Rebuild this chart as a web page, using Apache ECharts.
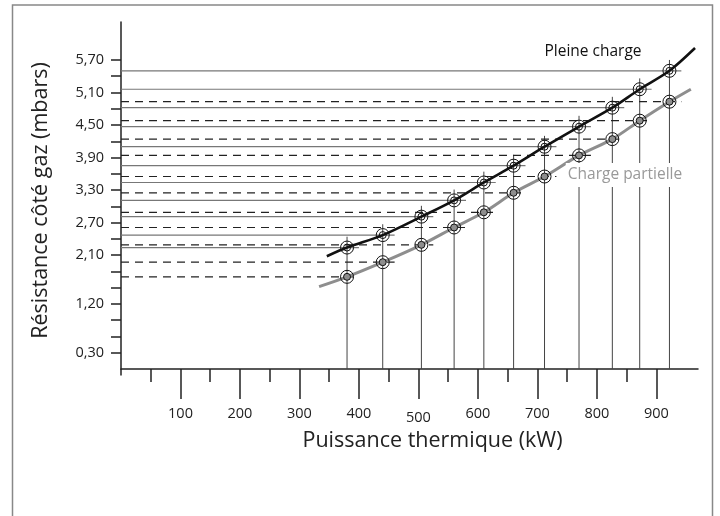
<!DOCTYPE html>
<html>
<head>
<meta charset="utf-8">
<script src="https://cdn.jsdelivr.net/npm/echarts@6/dist/echarts.min.js"></script>
<style>
  html, body { margin: 0; padding: 0; background: #fff; }
  #main { width: 720px; height: 516px; }
</style>
</head>
<body>
<div id="main"></div>
<script type="text/javascript">
// puissances (kW) des points de mesure
var power = [380, 440, 505, 560, 610, 660, 712, 770, 826, 872, 922];
// résistance côté gaz (mbars)
var fullLoad = [2.24, 2.47, 2.81, 3.11, 3.44, 3.75, 4.10, 4.47, 4.82, 5.16, 5.50];
var partLoad = [1.70, 1.97, 2.29, 2.61, 2.89, 3.25, 3.55, 3.94, 4.24, 4.58, 4.93];
// prolongement des courbes au-delà des points
var fullEnds = [[346, 2.08], [965, 5.92]];
var partEnds = [[333, 1.52], [958, 5.16]];
// graduations
var yLabels = [0.3, 1.2, 2.1, 2.7, 3.3, 3.9, 4.5, 5.1, 5.7];
var yTicks = [0.3, 0.6, 0.9, 1.2, 1.5, 1.8, 2.1, 2.4, 2.7, 3.0, 3.3, 3.6, 3.9, 4.2, 4.5, 4.8, 5.1, 5.4, 5.7];
var xMajor = [100, 200, 300, 400, 500, 600, 700, 800, 900];
var xMinor = [50, 150, 250, 350, 450, 550, 650, 750, 850];

var FONT = 'Open Sans';
var myChart = echarts.init(document.getElementById('main'));

function pairs(xs, ys) {
    return xs.map(function (x, i) { return [x, ys[i]]; });
}

// segments [x1, y1, x2, y2]
function segSeries(data, style) {
    return {
        type: 'custom',
        silent: true,
        z: 1,
        encode: {x: [0, 2], y: [1, 3]},
        data: data,
        renderItem: function (params, api) {
            var p1 = api.coord([api.value(0), api.value(1)]);
            var p2 = api.coord([api.value(2), api.value(3)]);
            return {
                type: 'line',
                shape: {x1: p1[0], y1: p1[1], x2: p2[0], y2: p2[1]},
                style: style
            };
        }
    };
}

var vLines = power.map(function (x, i) { return [x, 0, x, fullLoad[i] + 0.2]; });
var hFull = power.map(function (x, i) { return [0, fullLoad[i], x + 20, fullLoad[i]]; });
var hPart = power.map(function (x, i) { return [0, partLoad[i], x + 20, partLoad[i]]; });
// petit dépassement de l'axe vertical sous l'axe horizontal
var yStub = [[0, 0, 0, -0.12]];

function ring(data, size, fill, z) {
    return {
        type: 'scatter',
        data: data,
        symbol: 'circle',
        symbolSize: size,
        silent: true,
        z: z,
        itemStyle: {color: fill, borderColor: '#111', borderWidth: 1, opacity: 1}
    };
}

var fullPts = pairs(power, fullLoad);
var partPts = pairs(power, partLoad);

var option = {
    animation: false,
    textStyle: {fontFamily: FONT},
    grid: {left: 121, right: 22, top: 22, bottom: 147, outerBoundsMode: 'none'},
    xAxis: [{
        type: 'value',
        min: 0, max: 970, interval: 100,
        position: 'bottom',
        name: 'Puissance thermique (kW)',
        nameLocation: 'middle',
        nameGap: 58,
        nameTextStyle: {fontSize: 21.5, color: '#222', fontFamily: FONT, padding: [0, 0, 0, 46]},
        axisLine: {show: true, lineStyle: {color: '#222', width: 1.5}},
        axisTick: {show: true, inside: false, length: 30, customValues: xMajor, lineStyle: {color: '#222', width: 1.5}},
        axisLabel: {
            margin: 37, fontSize: 14.5, color: '#222', fontFamily: FONT,
            customValues: xMajor,
            formatter: function (v) { return v === 500 ? '{low|500}' : String(v); },
            rich: {low: {fontSize: 14.5, color: '#222', fontFamily: FONT, padding: [4, 0, 0, 0]}}
        },
        splitLine: {show: false}
    }, {
        type: 'value',
        min: 0, max: 970, interval: 100,
        position: 'bottom',
        axisLine: {show: false},
        axisTick: {show: true, length: 13, customValues: xMinor, lineStyle: {color: '#222', width: 1.5}},
        axisLabel: {show: false},
        splitLine: {show: false}
    }],
    yAxis: {
        type: 'value',
        min: 0, max: 6.4,
        name: 'Résistance côté gaz (mbars)',
        nameLocation: 'middle',
        nameGap: 69,
        nameRotate: 90,
        nameTextStyle: {fontSize: 21.5, color: '#222', fontFamily: FONT, padding: [0, 10, 0, 0]},
        axisLine: {show: true, lineStyle: {color: '#222', width: 1.5}},
        axisTick: {show: true, length: 10, customValues: yTicks, lineStyle: {color: '#222', width: 1.5}},
        axisLabel: {
            margin: 17, fontSize: 14.5, color: '#222', fontFamily: FONT,
            customValues: yLabels,
            formatter: function (v) { return v.toFixed(2).replace('.', ','); }
        },
        splitLine: {show: false}
    },
    series: [
        segSeries(vLines, {stroke: '#444', lineWidth: 1}),
        segSeries(hFull, {stroke: '#777', lineWidth: 1.2}),
        segSeries(hPart, {stroke: '#222', lineWidth: 1.2, lineDash: [8, 6]}),
        Object.assign(segSeries(yStub, {stroke: '#222', lineWidth: 1.5}), {clip: false}),
        {
            type: 'line',
            data: [fullEnds[0]].concat(fullPts, [fullEnds[1]]),
            smooth: 0.3,
            symbol: 'none',
            silent: true,
            z: 3,
            lineStyle: {color: '#111', width: 2.6}
        },
        {
            type: 'line',
            data: [partEnds[0]].concat(partPts, [partEnds[1]]),
            smooth: 0.3,
            symbol: 'none',
            silent: true,
            z: 3,
            lineStyle: {color: '#8e8e8e', width: 3}
        },
        ring(fullPts, 13, 'rgba(0,0,0,0)', 4),
        ring(fullPts, 7, 'rgba(0,0,0,0)', 5),
        ring(partPts, 13, 'rgba(0,0,0,0)', 4),
        ring(partPts, 7, '#8e8e8e', 5)
    ],
    graphic: [
        {
            type: 'rect', silent: true, z: 0,
            shape: {x: 12.5, y: 5, width: 700, height: 530},
            style: {fill: 'none', stroke: '#888', lineWidth: 1.5}
        },
        {
            type: 'text', silent: true, z: 10,
            x: 593, y: 52,
            style: {text: 'Pleine charge', fontSize: 15.5, fill: '#111', fontFamily: FONT, align: 'center', verticalAlign: 'middle'}
        },
        {
            type: 'text', silent: true, z: 10,
            x: 625, y: 175,
            style: {
                text: 'Charge partielle', fontSize: 15.5, fill: '#999', fontFamily: FONT,
                align: 'center', verticalAlign: 'middle',
                backgroundColor: '#fff', padding: [4, 2, 4, 2]
            }
        }
    ]
};

myChart.setOption(option);
</script>
</body>
</html>
